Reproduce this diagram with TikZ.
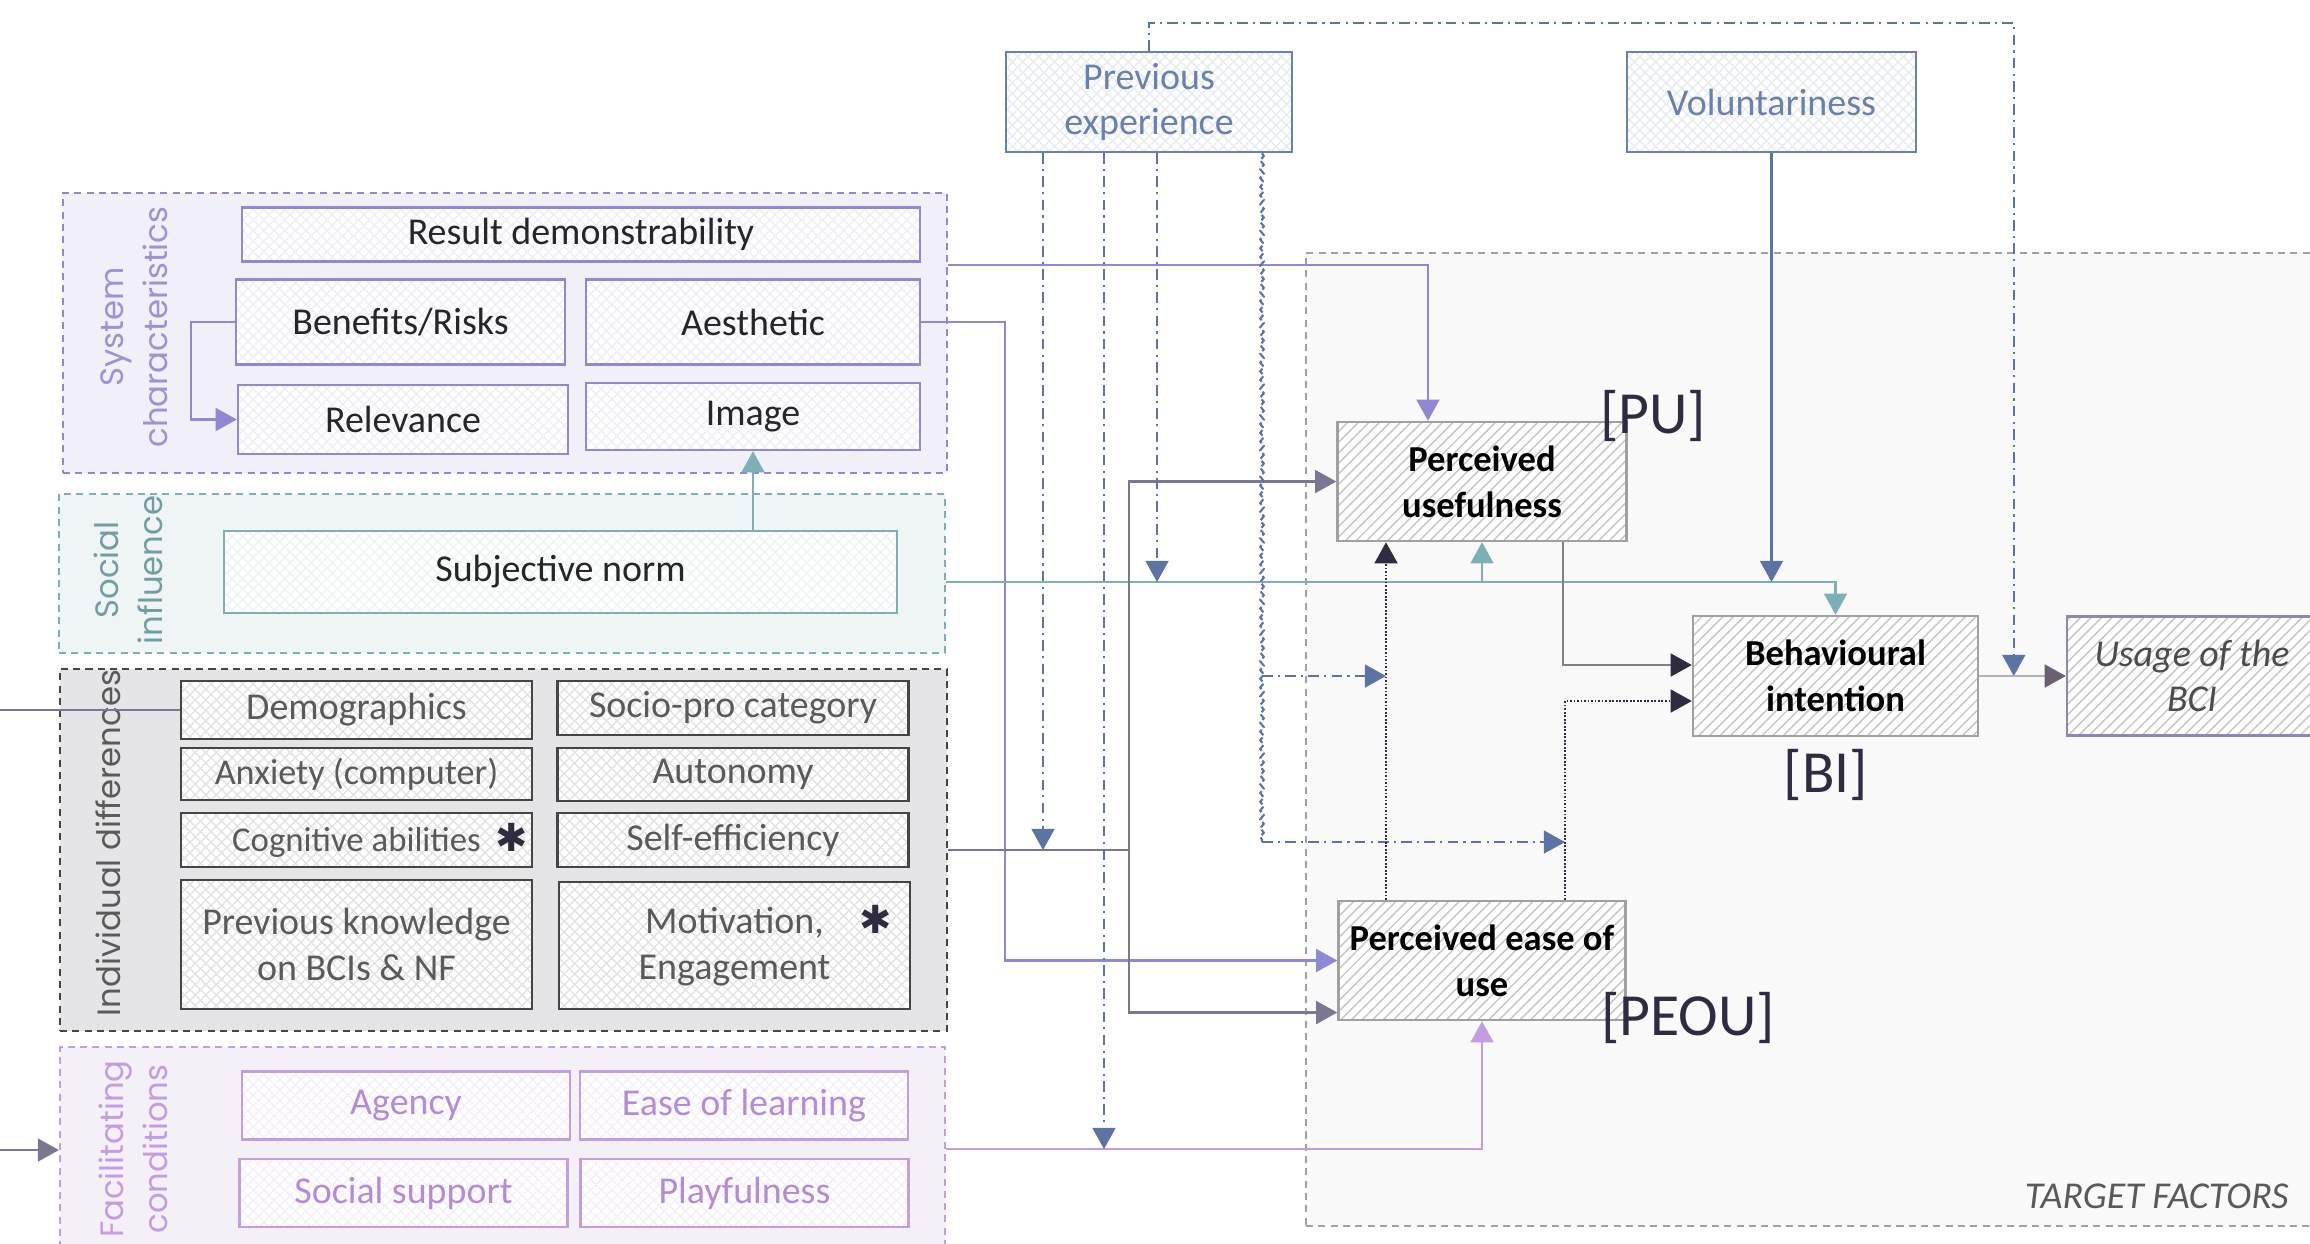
\documentclass[tikz,border=0pt]{standalone}
\usepackage{fontspec}
\setmainfont{Carlito}
\newfontfamily\grpfont{Poppins}
\newfontfamily\symfont{DejaVu Sans}
\usetikzlibrary{arrows.meta,patterns,decorations.pathmorphing}

\definecolor{sysc}{HTML}{8F88D3}
\definecolor{sysbg}{HTML}{F1EFF7}
\definecolor{tealc}{HTML}{7DB0B5}
\definecolor{tealbg}{HTML}{EFF4F4}
\definecolor{indc}{HTML}{7B7793}
\definecolor{indb}{HTML}{454545}
\definecolor{indbg}{HTML}{E5E4E7}
\definecolor{indtxt}{HTML}{5A5A5A}
\definecolor{facc}{HTML}{C49CE0}
\definecolor{facbg}{HTML}{F3F0F8}
\definecolor{factxt}{HTML}{B48BD6}
\definecolor{pec}{HTML}{5B74A3}
\definecolor{pebox}{HTML}{6A80AD}
\definecolor{darkc}{HTML}{2F2C42}
\definecolor{tgtbg}{HTML}{F9F9F9}
\definecolor{tgtb}{HTML}{A0A0A0}
\definecolor{tiptc}{HTML}{6A5F73}
\definecolor{usageb}{HTML}{8C87B5}

\newcommand{\astk}[1]{\makebox[0pt][l]{\hspace{#1}{\color{darkc}\symfont\fontsize{11}{11}\selectfont ✱}}}

\tikzset{
    grp/.style={draw, line width=0.6pt, dash pattern=on 2pt off 1.5pt, inner sep=0pt},
    grplabel/.style={rotate=90, align=center, font=\grpfont\fontsize{9.2}{12.5}\selectfont},
    box/.style={draw, line width=0.7pt, align=center, inner sep=0pt,
        font=\fontsize{10.8}{13}\selectfont, preaction={fill=white}, pattern=crosshatch},
    tbox/.style={draw=tgtb, line width=0.7pt, align=center, inner sep=0pt,
        font=\bfseries\fontsize{10.4}{13}\selectfont, preaction={fill=white},
        pattern=north east lines, pattern color=gray!45},
    tag/.style={text=darkc, font=\fontsize{17}{17}\selectfont, inner sep=0pt},
    link/.style={line width=0.6pt},
    pedash/.style={link, draw=pec, dash pattern=on 3pt off 1.5pt on 0.6pt off 1.5pt},
    dotdark/.style={link, draw=darkc, dash pattern=on 0.5pt off 0.5pt}
}

\begin{document}
\begin{tikzpicture}[>={Triangle[width=6.5pt,length=6pt]}]
            \useasboundingbox (0,0) rectangle (23.1,-12.43);
            \coordinate (leftedge) at (0,0);

            % groups
            \node[grp, draw=tgtb, fill=tgtbg, minimum width=10.24cm, minimum height=9.73cm] (tgtgrp) at (18.18,-7.395) {};
            \node[grp, draw=sysc, fill=sysbg, minimum width=8.84cm, minimum height=2.80cm] (sysgrp) at (5.05,-3.33) {};
            \node[grp, draw=tealc, fill=tealbg, minimum width=8.86cm, minimum height=1.59cm] (socgrp) at (5.02,-5.735) {};
            \node[grp, draw=indb, fill=indbg, minimum width=8.87cm, minimum height=3.62cm] (indgrp) at (5.035,-8.50) {};
            \node[grp, draw=facc, fill=facbg, minimum width=8.85cm, minimum height=2.13cm] (facgrp) at (5.025,-11.535) {};

            \node[grplabel, text=sysc!90] (syslbl) at (1.34,-3.27) {System\\characteristics};
            \node[grplabel, text=tealc!90!black] (soclbl) at (1.28,-5.70) {Social\\influence};
            \node[grplabel, text=indtxt] (indlbl) at (1.08,-8.43) {Individual differences};
            \node[grplabel, text=facc] (faclbl) at (1.33,-11.49) {Facilitating\\conditions};
            \node[text=indtxt, font=\itshape\fontsize{10.8}{13}\selectfont, anchor=east] (tgtlbl) at (23.01,-11.96) {TARGET FACTORS};

            % system characteristics
            \begin{scope}[every node/.append style={box, draw=sysc, pattern color=sysc!14, text=black!85}]
                \node[minimum width=6.78cm, minimum height=0.54cm] (resdem) at (5.81,-2.345) {Result demonstrability};
                \node[minimum width=3.29cm, minimum height=0.85cm] (benefits) at (4.005,-3.22) {Benefits/Risks};
                \node[minimum width=3.34cm, minimum height=0.85cm] (aesthetic) at (7.53,-3.22) {Aesthetic};
                \node[minimum width=3.30cm, minimum height=0.69cm] (relevance) at (4.03,-4.195) {Relevance};
                \node[minimum width=3.34cm, minimum height=0.67cm] (image) at (7.53,-4.165) {Image};
            \end{scope}

            % social influence
            \node[box, draw=tealc, pattern color=tealc!14, text=black!85, minimum width=6.73cm, minimum height=0.82cm] (subjnorm) at (5.605,-5.72) {Subjective norm};

            % individual differences
            \begin{scope}[every node/.append style={box, draw=indb, pattern color=gray!22, text=indtxt, minimum width=3.51cm}]
                \node[minimum height=0.58cm] (demog) at (3.565,-7.10) {Demographics};
                \node[minimum height=0.54cm] (sociopro) at (7.33,-7.08) {Socio-pro category};
                \node[minimum height=0.52cm, font=\fontsize{10.3}{13}\selectfont] (anxiety) at (3.565,-7.74) {Anxiety (computer)};
                \node[minimum height=0.53cm] (autonomy) at (7.33,-7.745) {Autonomy};
                \node[minimum height=0.54cm, font=\fontsize{9.9}{13}\selectfont] (cognitive) at (3.565,-8.40) {Cognitive abilities\astk{1.5mm}};
                \node[minimum height=0.54cm] (selfeff) at (7.33,-8.40) {Self-efficiency};
                \node[minimum height=1.29cm] (prevknow) at (3.565,-9.445) {Previous knowledge\\on BCIs \& NF};
                \node[minimum height=1.27cm] (motiv) at (7.345,-9.455) {Motivation,\astk{3.6mm}\\Engagement};
            \end{scope}

            % facilitating conditions
            \begin{scope}[every node/.append style={box, draw=facc, pattern color=facc!16, text=factxt, minimum width=3.28cm, minimum height=0.68cm}]
                \node (agency) at (4.06,-11.055) {Agency};
                \node (easelearn) at (7.44,-11.055) {Ease of learning};
                \node (socsupp) at (4.035,-11.93) {Social support};
                \node (playful) at (7.445,-11.93) {Playfulness};
            \end{scope}

            % moderators
            \node[box, draw=pebox, pattern color=pebox!16, text=pebox, minimum width=2.86cm, minimum height=1.0cm] (prevexp) at (11.49,-1.02) {Previous\\experience};
            \node[box, draw=pebox, pattern color=pebox!16, text=pebox, minimum width=2.89cm, minimum height=1.0cm] (volunt) at (17.715,-1.02) {Voluntariness};

            % target factors
            \node[tbox, minimum width=2.89cm, minimum height=1.19cm] (pu) at (14.82,-4.815) {Perceived\\usefulness};
            \node[tbox, minimum width=2.85cm, minimum height=1.20cm] (bi) at (18.355,-6.76) {Behavioural\\intention};
            \node[tbox, minimum width=2.87cm, minimum height=1.19cm] (peou) at (14.82,-9.605) {Perceived ease of\\use};
            \node[tbox, draw=usageb, font=\itshape\fontsize{10.8}{13}\selectfont, text=black!70, minimum width=2.50cm, minimum height=1.19cm] (usage) at (21.92,-6.76) {Usage of the\\BCI};
            \node[tag] (putag) at (16.53,-4.16) {[PU]};
            \node[tag] (bitag) at (18.26,-7.75) {[BI]};
            \node[tag] (peoutag) at (16.88,-10.18) {[PEOU]};

            % connectors
            \coordinate (tealstart) at ([yshift=-0.85mm]socgrp.east);
            \coordinate (facstart) at ([yshift=0.45mm]facgrp.east);
            \coordinate (facin) at ([yshift=0.35mm]facgrp.west);
            \coordinate (indj) at ([xshift=18.1mm]indgrp.east);
            \coordinate (tealpu) at (pu.south |- tealstart);
            \coordinate (pupeou) at ([xshift=-9.6mm]peou.north);
            \coordinate (pebi) at ([xshift=8.3mm]peou.north);
            \coordinate (peA) at ([xshift=-10.6mm]prevexp.south);
            \coordinate (peB) at ([xshift=-4.5mm]prevexp.south);
            \coordinate (peC) at ([xshift=0.8mm]prevexp.south);
            \coordinate (peD) at ([xshift=11.3mm]prevexp.south);
            \coordinate (pelow) at (0,-8.42);

            \draw[link, sysc, ->] ([yshift=6.8mm]sysgrp.east) -| ([xshift=-5.4mm]pu.north);
            \draw[link, sysc, ->] (aesthetic.east) -- ++(0.84,0) |- (peou.west);
            \draw[link, sysc, ->] (benefits.west) -- ++(-0.44,0) |- (relevance.west);

            \draw[link, tealc, ->] (subjnorm.north -| image.south) -- (image.south);
            \draw[link, tealc, ->] (tealstart) -| (bi.north);
            \draw[link, tealc, ->] (tealpu) -- (pu.south);

            \draw[link, indc, ->] (indgrp.east) -- (indj) |- (pu.west);
            \draw[link, indc, ->] (indj) |- ([yshift=-5.2mm]peou.west);
            \draw[link, indc] (demog.west -| leftedge) -- (demog.west);
            \draw[link, indc, ->] (facin -| leftedge) -- (facin);

            \draw[link, facc, ->] (facstart) -| (peou.south);

            \draw[link, pec, ->] (volunt.south) -- (volunt.south |- tealstart);

            \draw[pedash, ->] (peA) -- (peA |- indj);
            \draw[pedash, ->] (peB) -- (peB |- facstart);
            \draw[pedash, ->] (peC) -- (peC |- tealstart);
            \draw[link, pec, dash pattern=on 2pt off 0.8pt, decorate, decoration={snake, amplitude=0.5pt, segment length=2.5pt}] (peD) -- (peD |- pelow);
            \draw[pedash, ->] (peD |- bi.east) -- (pupeou |- bi.east);
            \draw[pedash, ->] (peD |- pelow) -- (pebi |- pelow);
            \draw[pedash, ->] (prevexp.north) -- ++(0,0.28) -| ([xshift=-5.2mm]usage.west);

            \draw[dotdark, ->] (pupeou) -- (pupeou |- pu.south);
            \draw[dotdark, ->] (pebi) |- ([yshift=-2.5mm]bi.west);
            \draw[link, gray, -{Triangle[width=6.5pt,length=6pt,color=darkc]}] ([xshift=8.1mm]pu.south) |- ([yshift=1.1mm]bi.west);
            \draw[link, gray!60, -{Triangle[width=6.5pt,length=6pt,color=tiptc]}] (bi.east) -- (usage.west);
        \end{tikzpicture}
\end{document}
